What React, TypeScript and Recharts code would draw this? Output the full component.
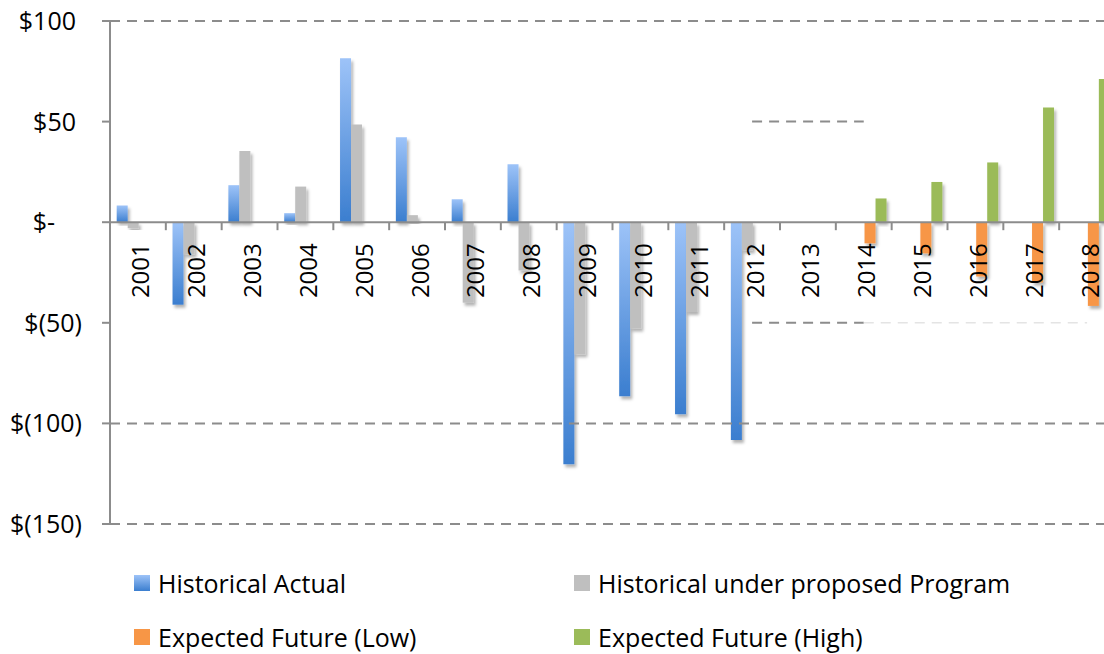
import { Bar, ComposedChart, Line, Rectangle, ReferenceLine, XAxis, YAxis } from "recharts";

const years = ["2001", "2002", "2003", "2004", "2005", "2006", "2007", "2008", "2009", "2010", "2011", "2012", "2013", "2014", "2015", "2016", "2017", "2018"];
const historicalActual = [8.3, -41, 18.4, 4.5, 81.5, 42.2, 11.4, 28.8, -120.3, -86.5, -95.4, -108.3, null, null, null, null, null, null];
const historicalProgram = [-3, -16, 35.4, 17.7, 48.6, 3.5, -40, -24, -65.6, -52.8, -44.6, -14, null, null, null, null, null, null];
const futureLow = [null, null, null, null, null, null, null, null, null, null, null, null, null, -10.5, -15.5, -27, -30, -41.6];
const futureHigh = [null, null, null, null, null, null, null, null, null, null, null, null, null, 11.8, 20, 29.7, 57, 71.2];
const yTicks = [-150, -100, -50, 0, 50, 100];

const series = [
  { key: "actual", name: "Historical Actual", color: "url(#blueFill)", swatch: "linear-gradient(#9dc3f8, #3b7ecf)" },
  { key: "program", name: "Historical under proposed Program", color: "#bfbfbf", swatch: "#bfbfbf" },
  { key: "low", name: "Expected Future (Low)", color: "#f79646", swatch: "#f79646" },
  { key: "high", name: "Expected Future (High)", color: "#9bbb59", swatch: "#9bbb59" },
];

const data = years.map((year, i) => ({
  year,
  actual: historicalActual[i],
  program: historicalProgram[i],
  low: futureLow[i],
  high: futureHigh[i],
}));

const FONT = "'Open Sans', sans-serif";
const AXIS = "#8c8c8c";

const money = (v: number) => (v === 0 ? "$-" : v < 0 ? `$(${-v})` : `$${v}`);

function YTick(props: any) {
  const { x, y, payload } = props;
  const v = payload.value;
  const dx = v === 0 ? -21 : v < 0 ? 6 : 0;
  return (
    <text x={x + dx} y={y} dy={9} textAnchor="end" fontSize={25} fontFamily={FONT} fill="#000">
      {money(v)}
    </text>
  );
}

// year labels + tick marks drawn on the zero line
function YearMark(props: any) {
  const { cx, cy, index, points, payload } = props;
  const half = points && points.length > 1 ? (points[1].x - points[0].x) / 2 : 27.9;
  const last = points ? index === points.length - 1 : false;
  return (
    <g key={`yr-${index}`}>
      <line x1={cx - half} x2={cx - half} y1={cy} y2={cy + 8} stroke={AXIS} strokeWidth={2} />
      {last && <line x1={cx + half} x2={cx + half} y1={cy} y2={cy + 8} stroke={AXIS} strokeWidth={2} />}
      <text
        x={cx + 2}
        y={cy + 21}
        transform={`rotate(-90 ${cx + 2} ${cy + 21})`}
        textAnchor="end"
        dominantBaseline="central"
        fontSize={24}
        fontFamily={FONT}
        fill="#000"
      >
        {payload.year}
      </text>
    </g>
  );
}

const shadowBar = (props: any) => <Rectangle {...props} filter="url(#barShadow)" />;

export default function App() {
  return (
    <div style={{ position: "absolute", left: 0, top: 0, width: 1104, height: 654, overflow: "hidden", background: "#fff", fontFamily: FONT }}>
      <ComposedChart width={1130} height={654} data={data} margin={{ top: 21, right: 15, left: 0, bottom: 130 }} barCategoryGap="12%" barGap={0}>
        <defs>
          <linearGradient id="blueFill" x1="0" y1="0" x2="0" y2="1">
            <stop offset="0%" stopColor="#9dc3f8" />
            <stop offset="100%" stopColor="#3b7ecf" />
          </linearGradient>
          <filter id="barShadow" x="-50%" y="-10%" width="200%" height="130%">
            <feDropShadow dx="2" dy="3" stdDeviation="1.5" floodColor="#000" floodOpacity="0.3" />
          </filter>
        </defs>
        <XAxis dataKey="year" hide />
        <YAxis
          width={110}
          domain={[-150, 100]}
          ticks={yTicks}
          interval={0}
          axisLine={{ stroke: AXIS, strokeWidth: 2 }}
          tickLine={{ stroke: AXIS, strokeWidth: 2 }}
          tickSize={8}
          tickMargin={26}
          tick={<YTick />}
        />
        <ReferenceLine y={100} stroke={AXIS} strokeWidth={2} strokeDasharray="10 7" />
        <ReferenceLine y={-100} stroke={AXIS} strokeWidth={2} strokeDasharray="10 7" />
        <ReferenceLine y={-150} stroke={AXIS} strokeWidth={2} strokeDasharray="10 7" />
        <ReferenceLine segment={[{ x: "2012", y: 50 }, { x: "2014", y: 50 }]} stroke={AXIS} strokeWidth={2} strokeDasharray="10 7" />
        <ReferenceLine segment={[{ x: "2012", y: -50 }, { x: "2014", y: -50 }]} stroke={AXIS} strokeWidth={2} strokeDasharray="10 7" />
        <ReferenceLine segment={[{ x: "2014", y: -50 }, { x: "2018", y: -50 }]} stroke="#e4e4e4" strokeWidth={1.5} strokeDasharray="10 7" />
        {series.map((s) => (
          <Bar key={s.key} dataKey={s.key} name={s.name} fill={s.color} shape={shadowBar} isAnimationActive={false} />
        ))}
        <ReferenceLine y={0} stroke={AXIS} strokeWidth={2} />
        <Line dataKey={() => 0} stroke="none" dot={YearMark} activeDot={false} legendType="none" isAnimationActive={false} />
      </ComposedChart>
      <div style={{ position: "absolute", left: 134, top: 566, width: 960, display: "grid", gridTemplateColumns: "440px 520px", rowGap: 21, fontSize: 25, color: "#000" }}>
        {series.map((s) => (
          <div key={s.key} style={{ display: "flex", alignItems: "center", height: 33, whiteSpace: "nowrap" }}>
            <span style={{ width: 16, height: 16, background: s.swatch, marginRight: 8, display: "inline-block" }} />
            <span>{s.name}</span>
          </div>
        ))}
      </div>
    </div>
  );
}
